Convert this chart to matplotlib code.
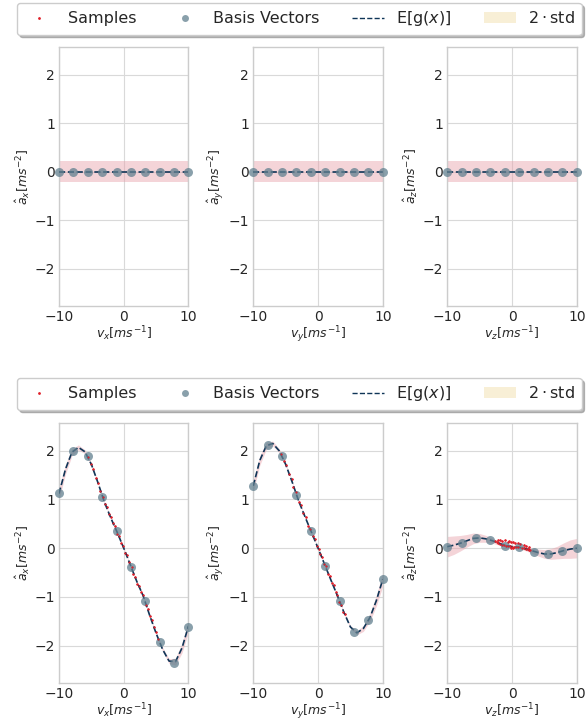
#!/usr/bin/env python3
"""GP fit of acceleration vs velocity: prior (top) and posterior (bottom)."""

import matplotlib

matplotlib.use("Agg")
import matplotlib.pyplot as plt
from matplotlib.lines import Line2D
from matplotlib.patches import Patch

# dense grid for the mean curve / band
GRID = list(range(-10, 11))
# basis vector locations
BASIS_X = [-10.0, -7.78, -5.56, -3.33, -1.11, 1.11, 3.33, 5.56, 7.78, 10.0]

# --- prior (top row): zero mean, constant band ---
PRIOR_MEAN = [0.0] * 21
PRIOR_STD2 = [0.21] * 21
PRIOR_BASIS = [0.0] * 10

# --- posterior (bottom row) ---
MEAN_X = [1.12, 1.62, 1.97, 2.07, 1.98, 1.72, 1.35, 0.95, 0.62, 0.32, 0.0,
          -0.34, -0.68, -0.98, -1.38, -1.75, -2.08, -2.32, -2.33, -2.05, -1.60]
MEAN_Y = [1.28, 1.80, 2.10, 2.15, 2.00, 1.72, 1.36, 0.97, 0.64, 0.32, 0.0,
          -0.33, -0.66, -0.98, -1.32, -1.62, -1.74, -1.65, -1.43, -1.08, -0.64]
MEAN_Z = [0.03, 0.06, 0.10, 0.15, 0.20, 0.21, 0.19, 0.15, 0.10, 0.05, 0.03,
          0.02, -0.01, -0.05, -0.09, -0.12, -0.12, -0.09, -0.05, -0.02, 0.0]

STD2_X = [0.12, 0.10, 0.07, 0.05, 0.04, 0.03, 0.02, 0.02, 0.02, 0.02, 0.02,
          0.02, 0.02, 0.02, 0.02, 0.03, 0.04, 0.05, 0.07, 0.10, 0.12]
STD2_Y = [0.12, 0.10, 0.07, 0.05, 0.04, 0.03, 0.02, 0.02, 0.02, 0.02, 0.02,
          0.02, 0.02, 0.02, 0.02, 0.03, 0.04, 0.06, 0.08, 0.11, 0.14]
STD2_Z = [0.21, 0.19, 0.16, 0.13, 0.11, 0.09, 0.07, 0.05, 0.04, 0.03, 0.03,
          0.03, 0.04, 0.05, 0.07, 0.09, 0.11, 0.13, 0.16, 0.19, 0.20]

BASIS_VX = [1.14, 1.99, 1.90, 1.06, 0.36, -0.38, -1.09, -1.92, -2.35, -1.61]
BASIS_VY = [1.28, 2.11, 1.90, 1.09, 0.35, -0.36, -1.09, -1.72, -1.47, -0.64]
BASIS_VZ = [0.03, 0.10, 0.21, 0.17, 0.05, 0.02, -0.07, -0.12, -0.06, 0.0]

SAMPLES_X_V = [-5.5, -5.1, -4.7, -4.3, -3.9, -3.6, -3.2, -2.9, -2.6, -2.3, -2.0,
               -1.7, -1.4, -1.0, -0.7, -0.4, -0.1, 0.2, 0.5, 0.8, 1.2, 1.5,
               1.8, 2.1, 2.4, 2.7, 3.0, 3.4, 3.7, 4.0, 4.3, 4.6, 5.0, 5.3]
SAMPLES_X_A = [1.87, 1.73, 1.63, 1.44, 1.33, 1.17, 1.05, 0.90, 0.84, 0.70, 0.64,
               0.51, 0.46, 0.30, 0.24, 0.11, 0.05, -0.09, -0.15, -0.29, -0.39, -0.53,
               -0.59, -0.73, -0.78, -0.91, -0.96, -1.16, -1.24, -1.40, -1.47, -1.62,
               -1.73, -1.87]

SAMPLES_Y_V = [-5.7, -5.3, -4.9, -4.5, -4.1, -3.8, -3.4, -3.0, -2.7, -2.3, -1.9,
               -1.5, -1.2, -0.8, -0.5, -0.2, 0.1, 0.3, 0.6, 0.9, 1.2, 1.5, 1.8,
               2.1, 2.4, 2.7, 3.0, 3.3, 3.6, 3.9, 4.2]
SAMPLES_Y_A = [1.94, 1.78, 1.70, 1.52, 1.42, 1.26, 1.15, 0.95, 0.89, 0.72, 0.63,
               0.46, 0.40, 0.24, 0.18, 0.04, -0.01, -0.12, -0.18, -0.33, -0.37,
               -0.53, -0.57, -0.72, -0.76, -0.91, -0.96, -1.10, -1.16, -1.31, -1.36]

SAMPLES_Z_V = [-2.7, -2.4, -2.1, -1.8, -1.5, -1.2, -0.9, -0.6, -0.3, 0.0, 0.3,
               0.6, 0.9, 1.5, 1.9, 2.2, 2.5, 2.8,
               -2.2, -1.9, -1.5, -1.1, -0.7, -0.4, -0.1, 0.2, 0.5, 0.9, 1.3, 1.8,
               2.2, 2.6, -0.2, 0.1, 2.4, 2.6]
SAMPLES_Z_A = [0.14, 0.12, 0.11, 0.09, 0.07, 0.06, 0.05, 0.04, 0.04, 0.03, 0.03,
               0.02, 0.02, 0.01, 0.0, -0.01, -0.02, -0.04,
               0.16, 0.17, 0.15, 0.16, 0.13, 0.14, 0.12, 0.13, 0.10, 0.11, 0.08,
               0.07, 0.04, 0.02, 0.01, 0.0, -0.01, -0.03]

AXES = ["x", "y", "z"]
RED = "#e0202a"
BASIS_C = "#62808f"
LINE_C = "#0f3557"
BAND_C = "#e8a0aa"
LEGEND_BAND_C = "#f8efd6"

plt.style.use("seaborn-v0_8-whitegrid")
plt.rcParams.update({
    "font.family": ["DejaVu Sans"],
    "mathtext.fontset": "dejavusans",
    "axes.edgecolor": "0.8",
    "axes.linewidth": 1.0,
    "grid.color": "0.85",
    "text.color": "0.15",
    "xtick.color": "0.15",
    "ytick.color": "0.15",
    "axes.labelcolor": "0.15",
})

fig = plt.figure(figsize=(5.87, 7.27), dpi=100)

lefts = [59 / 587, 253.3 / 587, 447.3 / 587]
width = 129.5 / 587
rows = [(1 - 306 / 727, 259 / 727), (1 - 683 / 727, 260 / 727)]

prior = [(PRIOR_MEAN, PRIOR_STD2, PRIOR_BASIS, [], [])] * 3
post = [
    (MEAN_X, STD2_X, BASIS_VX, SAMPLES_X_V, SAMPLES_X_A),
    (MEAN_Y, STD2_Y, BASIS_VY, SAMPLES_Y_V, SAMPLES_Y_A),
    (MEAN_Z, STD2_Z, BASIS_VZ, SAMPLES_Z_V, SAMPLES_Z_A),
]

for (bottom, height), panels in zip(rows, (prior, post)):
    for left, comp, (mean, std2, basis, sv, sa) in zip(lefts, AXES, panels):
        ax = fig.add_axes([left, bottom, width, height])
        lo = [m - s for m, s in zip(mean, std2)]
        hi = [m + s for m, s in zip(mean, std2)]
        ax.fill_between(GRID, lo, hi, color=BAND_C, alpha=0.45, lw=0, zorder=1)
        if sv:
            ax.scatter(sv, sa, s=3, color=RED, lw=0, zorder=2)
        ax.plot(GRID, mean, ls="--", color=LINE_C, lw=1.2, zorder=3)
        ax.scatter(BASIS_X, basis, s=42, color=BASIS_C, alpha=0.75, lw=0,
                   zorder=4, clip_on=False)
        if sv:
            ax.scatter(sv, sa, s=2, color=RED, lw=0, zorder=5)
        ax.set_xlim(-10, 10)
        ax.set_ylim(-2.77, 2.57)
        ax.set_xticks([-10, 0, 10])
        ax.set_yticks([-2, -1, 0, 1, 2])
        ax.tick_params(labelsize=10, length=0, pad=3)
        ax.set_xlabel(rf"$v_{comp}[ms^{{-1}}]$", fontsize=9, labelpad=0)
        ax.set_ylabel(rf"$\hat{{a}}_{comp}[ms^{{-2}}]$", fontsize=9, labelpad=2)

handles = [
    Line2D([], [], ls="none", marker=".", ms=2, color=RED),
    Line2D([], [], ls="none", marker="o", ms=5, color=BASIS_C, alpha=0.75,
           markeredgewidth=0),
    Line2D([], [], ls="--", lw=1, color=LINE_C),
    Patch(facecolor=LEGEND_BAND_C, edgecolor="none"),
]
labels = ["Samples", "Basis Vectors", "E[g($x$)]", r"$2\cdot\mathrm{std}$"]
for top in (1 - 3 / 727, 1 - 378 / 727):
    fig.legend(handles, labels, loc="upper center", bbox_to_anchor=(0.51, top),
               ncol=4, fontsize=11.5, frameon=True, fancybox=True,
               shadow={"color": "0.55", "alpha": 0.6},
               borderaxespad=0, framealpha=1, edgecolor="0.8")

fig.savefig("out.png", dpi=100)
